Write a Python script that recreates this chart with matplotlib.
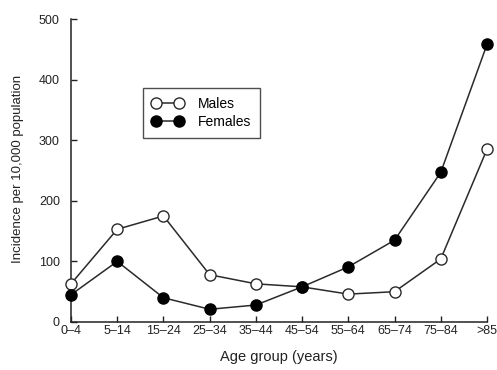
import matplotlib
matplotlib.use("Agg")
import matplotlib.pyplot as plt

AGE_GROUPS = ["0\u20134", "5\u201314", "15\u201324", "25\u201334", "35\u201344",
              "45\u201354", "55\u201364", "65\u201374", "75\u201384", ">85"]
MALES = [63, 153, 175, 78, 63, 58, 46, 50, 104, 285]
FEMALES = [45, 100, 40, 21, 28, 58, 91, 135, 247, 458]
Y_TICKS = [0, 100, 200, 300, 400, 500]


def main():
    plt.rcParams["font.family"] = ["Liberation Sans", "DejaVu Sans"]
    fig = plt.figure(figsize=(4.97, 3.70), dpi=100)
    ax = fig.add_axes([71 / 497, 1 - 322 / 370, 416 / 497, 303 / 370])

    x = list(range(len(AGE_GROUPS)))
    line_color = "#2a2a2a"
    ax.plot(x, MALES, color=line_color, linewidth=1.1, marker="o",
            markersize=8, markerfacecolor="white", markeredgecolor=line_color,
            markeredgewidth=1.0, label="Males", clip_on=False, zorder=3)
    ax.plot(x, FEMALES, color=line_color, linewidth=1.1, marker="o",
            markersize=8, markerfacecolor="black", markeredgecolor="black",
            label="Females", clip_on=False, zorder=4)

    ax.set_xlim(0, len(AGE_GROUPS) - 1)
    ax.set_ylim(0, 500)
    ax.set_xticks(x)
    ax.set_xticklabels(AGE_GROUPS)
    ax.set_yticks(Y_TICKS)
    ax.tick_params(axis="both", direction="in", length=4, width=1.0,
                   labelsize=9, colors="#222222")
    ax.tick_params(axis="x", pad=2)
    ax.tick_params(axis="y", pad=8)

    for side in ("top", "right"):
        ax.spines[side].set_visible(False)
    for side in ("left", "bottom"):
        ax.spines[side].set_linewidth(1.1)
        ax.spines[side].set_color("#222222")

    ax.set_xlabel("Age group (years)", fontsize=10.5, color="#222222")
    ax.xaxis.set_label_coords(0.5, -28 / 303, transform=ax.transAxes)
    ax.set_ylabel("Incidence per 10,000 population", fontsize=9.5, color="#222222")
    ax.yaxis.set_label_coords(-47 / 416, 0.505, transform=ax.transAxes)

    leg = ax.legend(loc="upper left", bbox_to_anchor=(0.172, 0.772),
                    frameon=True, fancybox=False, edgecolor="#222222",
                    fontsize=10, numpoints=2, handlelength=2.3, borderpad=0.65,
                    labelspacing=0.3, handletextpad=1.0, borderaxespad=0)
    leg.get_frame().set_linewidth(1.0)

    fig.savefig("out.png", dpi=100)
    plt.close(fig)


if __name__ == "__main__":
    main()
